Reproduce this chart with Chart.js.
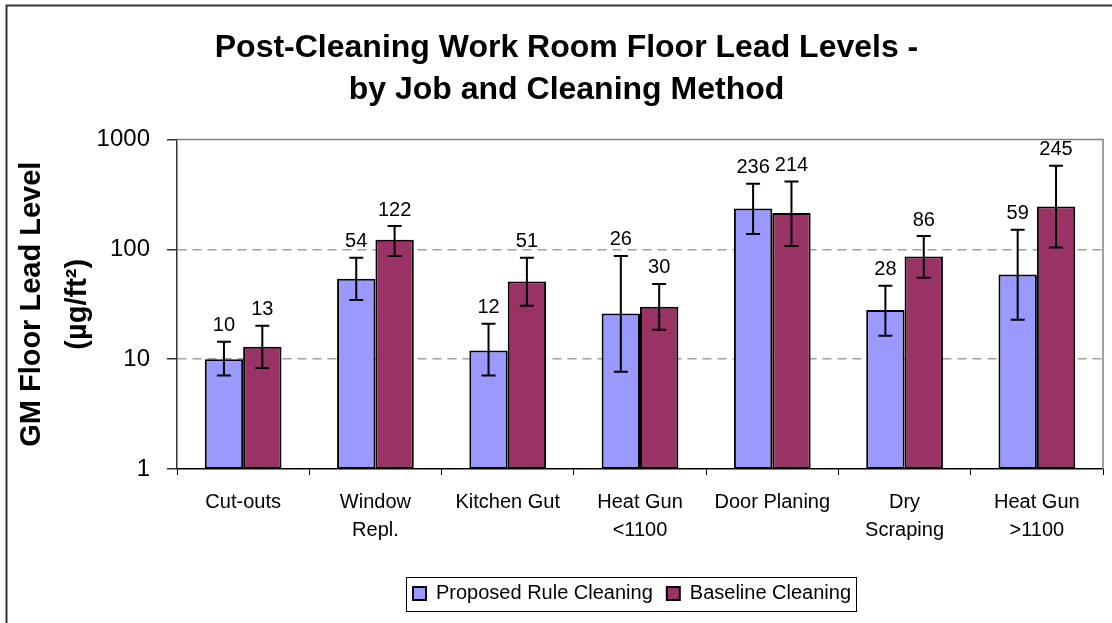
<!DOCTYPE html>
<html>
<head>
<meta charset="utf-8">
<script src="https://cdn.jsdelivr.net/npm/chart.js@4.4.1/dist/chart.umd.min.js"></script>
<style>
  body { margin: 0; background: #fff; }
  canvas { display: block; }
</style>
</head>
<body>
<canvas id="leadChart" width="1112" height="623"></canvas>
<script>
var jobs = ['Cut-outs', ['Window', 'Repl.'], 'Kitchen Gut', ['Heat Gun', '<1100'], 'Door Planing', ['Dry', 'Scraping'], ['Heat Gun', '>1100']];
var proposed = [10, 54, 12, 26, 236, 28, 59];
var baseline = [13, 122, 51, 30, 214, 86, 245];
var proposedHi = [14.4, 84, 21, 87, 396, 46.7, 151];
var proposedLo = [7.1, 34.6, 7.1, 7.7, 138, 16.3, 22.9];
var baselineHi = [20.1, 163, 84, 48.4, 414, 132, 578];
var baselineLo = [8.3, 87, 30.7, 18.5, 107, 55, 104];
var yTicks = [1, 10, 100, 1000];

var font = 'Liberation Sans, Arial, sans-serif';

// error bars + value labels on top of them
var errorBars = {
  id: 'errorBars',
  afterDatasetsDraw: function(chart) {
    var ctx = chart.ctx;
    var y = chart.scales.y;
    var hi = [proposedHi, baselineHi];
    var lo = [proposedLo, baselineLo];
    ctx.save();
    ctx.strokeStyle = '#000';
    ctx.lineWidth = 2;
    ctx.fillStyle = '#000';
    ctx.font = '20px ' + font;
    ctx.textAlign = 'center';
    ctx.textBaseline = 'middle';
    chart.data.datasets.forEach(function(ds, i) {
      var meta = chart.getDatasetMeta(i);
      meta.data.forEach(function(bar, j) {
        var yh = y.getPixelForValue(hi[i][j]);
        var yl = y.getPixelForValue(lo[i][j]);
        ctx.beginPath();
        ctx.moveTo(bar.x, yh);
        ctx.lineTo(bar.x, yl);
        ctx.moveTo(bar.x - 7, yh);
        ctx.lineTo(bar.x + 7, yh);
        ctx.moveTo(bar.x - 7, yl);
        ctx.lineTo(bar.x + 7, yl);
        ctx.stroke();
        ctx.fillText(String(ds.data[j]), bar.x, yh - 16);
      });
    });
    ctx.restore();
  }
};

// nudge legend a bit left, like the original
var legendShift = {
  id: 'legendShift',
  afterLayout: function(chart) {
    var lg = chart.legend;
    lg.left -= 8;
    lg.right -= 8;
    (lg.legendHitBoxes || []).forEach(function(h) { h.left -= 8; });
  }
};

// plot border, legend box and outer frame
var frames = {
  id: 'frames',
  afterDraw: function(chart) {
    var ctx = chart.ctx;
    var a = chart.chartArea;
    ctx.save();
    ctx.strokeStyle = '#808080';
    ctx.lineWidth = 1.5;
    ctx.beginPath();
    ctx.moveTo(a.left, a.top);
    ctx.lineTo(a.right, a.top);
    ctx.lineTo(a.right, a.bottom);
    ctx.stroke();

    var boxes = chart.legend.legendHitBoxes;
    if (boxes && boxes.length) {
      var first = boxes[0], last = boxes[boxes.length - 1];
      var cy = first.top + first.height / 2;
      ctx.strokeStyle = '#000';
      ctx.lineWidth = 1;
      ctx.strokeRect(Math.round(first.left - 7) + 0.5, Math.round(cy - 17) + 0.5,
        Math.round(last.left + last.width - first.left + 12), 34);
    }

    ctx.strokeStyle = '#333';
    ctx.lineWidth = 2;
    ctx.beginPath();
    ctx.moveTo(6.5, 623);
    ctx.lineTo(6.5, 5.5);
    ctx.lineTo(1112, 5.5);
    ctx.stroke();
    ctx.restore();
  }
};

function init() {
  var ctx = document.getElementById('leadChart');
  new Chart(ctx, {
    type: 'bar',
    data: {
      labels: jobs,
      datasets: [{
        label: 'Proposed Rule Cleaning',
        data: proposed,
        backgroundColor: '#9999FF',
        borderColor: '#000',
        borderWidth: 2,
        borderSkipped: false
      }, {
        label: 'Baseline Cleaning',
        data: baseline,
        backgroundColor: '#993366',
        borderColor: '#000',
        borderWidth: 2,
        borderSkipped: false
      }]
    },
    options: {
      responsive: false,
      animation: false,
      devicePixelRatio: 1,
      layout: { padding: { left: 30, right: 9, top: 0, bottom: 9.5 } },
      datasets: { bar: { categoryPercentage: 0.58, barPercentage: 1.0 } },
      plugins: {
        tooltip: { enabled: false },
        title: {
          display: true,
          text: ['Post-Cleaning Work Room Floor Lead Levels -', 'by Job and Cleaning Method'],
          color: '#000',
          font: { family: font, size: 32, weight: 'bold', lineHeight: 42 / 32 },
          padding: { top: 27, bottom: 28.5 }
        },
        legend: {
          position: 'bottom',
          fullSize: false,
          labels: {
            color: '#000',
            font: { family: font, size: 20 },
            boxWidth: 13,
            boxHeight: 13,
            padding: 14
          }
        }
      },
      scales: {
        x: {
          grid: {
            offset: true,
            drawOnChartArea: false,
            tickLength: 6,
            tickColor: '#000'
          },
          border: { color: '#000', width: 1.5 },
          ticks: {
            color: '#000',
            font: { family: font, size: 20, lineHeight: 1.4 },
            padding: 13,
            maxRotation: 0,
            autoSkip: false
          },
          afterFit: function(scale) { scale.height = 100.5; }
        },
        y: {
          type: 'logarithmic',
          min: 1,
          max: 1000,
          afterBuildTicks: function(scale) {
            scale.ticks = yTicks.map(function(v) { return { value: v }; });
          },
          afterFit: function(scale) { scale.width = 147; },
          grid: {
            color: function(c) {
              var v = c.tick && c.tick.value;
              return (v === 10 || v === 100) ? '#a0a0a0' : 'rgba(0,0,0,0)';
            },
            lineWidth: 1.5,
            tickLength: 10,
            tickColor: '#333',
            tickBorderDash: [],
            tickWidth: 1.5
          },
          border: { color: '#333', width: 1.5, dash: [9, 6] },
          ticks: {
            color: '#000',
            font: { family: font, size: 24 },
            padding: 17,
            callback: function(v) { return String(v); }
          },
          title: {
            display: true,
            text: ['GM Floor Lead Level', '(\u00b5g/ft\u00b2)'],
            color: '#000',
            font: { family: font, size: 29, weight: 'bold', lineHeight: 46 / 29 },
            padding: { top: -21, bottom: 0 }
          }
        }
      }
    },
    plugins: [legendShift, errorBars, frames]
  });
}

init();
</script>
</body>
</html>
